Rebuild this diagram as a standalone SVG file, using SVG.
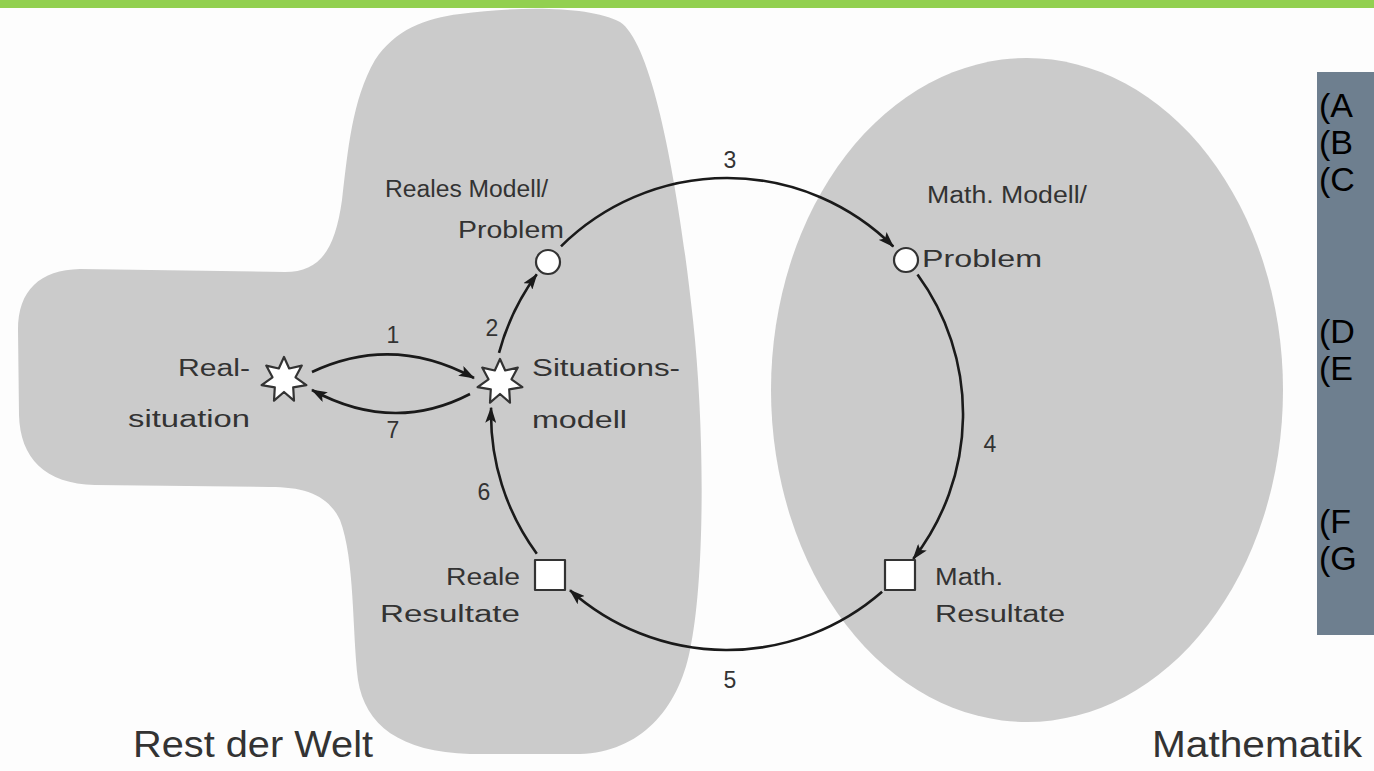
<svg xmlns="http://www.w3.org/2000/svg" xmlns:xlink="http://www.w3.org/1999/xlink" width="1374" height="771" viewBox="0 0 1374 771">
  <style>
    .region { fill: #cbcbcb; }
    .lbl { font-family: "Liberation Sans", Arial, sans-serif; font-size: 23px; fill: #333333; }
    .num { font-family: "Liberation Sans", Arial, sans-serif; font-size: 23px; fill: #333333; text-anchor: middle; }
    .big { font-family: "Liberation Sans", Arial, sans-serif; font-size: 36px; fill: #333333; }
    .node { fill: #ffffff; stroke: #333333; stroke-width: 2.2; stroke-linejoin: round; }
    .edge { fill: none; stroke: #1a1a1a; stroke-width: 2.6; marker-end: url(#ah); }
    .key { font-family: "Liberation Sans", Arial, sans-serif; font-size: 34px; fill: #000000; }
  </style>
  <defs>
    <marker id="ah" markerWidth="16" markerHeight="11" refX="15" refY="5.5" orient="auto" markerUnits="userSpaceOnUse">
      <path d="M0,0 L16,5.5 L0,11 L3.5,5.5 z" fill="#1a1a1a"/>
    </marker>
    <!-- seven-pointed burst used for the two situation nodes -->
    <polygon id="star" points="0,-23 5.2,-11.5 17.8,-14.4 11.5,-2.7 22.4,5.1 9.2,7.3 10,20.7 0,12 -10,20.7 -9.2,7.3 -22.4,5.1 -11.5,-2.7 -17.8,-14.4 -5.2,-11.5"/>
  </defs>

  <rect width="1374" height="771" fill="#fdfdfd"/>
  <rect x="0" y="0" width="1374" height="8" fill="#92d050"/>

  <!-- regions -->
  <g id="rest-der-welt">
    <path class="region" d="M 460,14 C 520,6 590,6 620,22 C 655,45 680,200 693,320 C 705,430 705,580 690,650 C 678,710 640,752 580,754 L 470,754 C 400,752 365,725 358,680 C 352,630 355,560 340,520 C 328,495 305,487 270,487 L 95,485 C 45,484 20,458 19,415 L 18,330 C 18,290 40,270 80,269 L 285,272 C 320,272 335,250 342,200 C 348,150 352,100 375,60 C 395,30 425,18 460,14 Z"/>
    <text class="big" x="133" y="757" textLength="240" lengthAdjust="spacingAndGlyphs">Rest der Welt</text>
  </g>
  <g id="mathematik">
    <ellipse class="region" cx="1027" cy="390" rx="256" ry="332"/>
    <text class="big" x="1152" y="757" textLength="210" lengthAdjust="spacingAndGlyphs">Mathematik</text>
  </g>

  <!-- connectors -->
  <g id="connectors">
    <path class="edge" d="M 312,372 Q 393,334 474,378"/>
    <path class="edge" d="M 470,394 Q 393,434 312,390"/>
    <path class="edge" d="M 499,352.9 A 236 236 0 0 1 536.8,274.3"/>
    <path class="edge" d="M 561,246.3 A 236 236 0 0 1 893.3,246.5"/>
    <path class="edge" d="M 917.5,274.6 A 236 236 0 0 1 913.2,559"/>
    <path class="edge" d="M 882.1,591.8 A 236 236 0 0 1 570,590.2"/>
    <path class="edge" d="M 536.8,553.7 A 236 236 0 0 1 491.1,407.8"/>
    <text class="num" x="393" y="343">1</text>
    <text class="num" x="492" y="336">2</text>
    <text class="num" x="730" y="168">3</text>
    <text class="num" x="990" y="452">4</text>
    <text class="num" x="730" y="688">5</text>
    <text class="num" x="484" y="500">6</text>
    <text class="num" x="393" y="438">7</text>
  </g>

  <!-- nodes -->
  <g id="realsituation">
    <use xlink:href="#star" href="#star" class="node" x="284" y="380"/>
    <text class="lbl" x="250" y="376" text-anchor="end" textLength="72" lengthAdjust="spacingAndGlyphs">Real-</text>
    <text class="lbl" x="250" y="427" text-anchor="end" textLength="122" lengthAdjust="spacingAndGlyphs">situation</text>
  </g>
  <g id="situationsmodell">
    <use xlink:href="#star" href="#star" class="node" x="500" y="382"/>
    <text class="lbl" x="532" y="376" textLength="148" lengthAdjust="spacingAndGlyphs">Situations-</text>
    <text class="lbl" x="532" y="428" textLength="95" lengthAdjust="spacingAndGlyphs">modell</text>
  </g>
  <g id="reales-modell">
    <circle class="node" cx="548" cy="262" r="12"/>
    <text class="lbl" x="385" y="197" textLength="163" lengthAdjust="spacingAndGlyphs">Reales Modell/</text>
    <text class="lbl" x="458" y="238" textLength="106" lengthAdjust="spacingAndGlyphs">Problem</text>
  </g>
  <g id="math-modell">
    <circle class="node" cx="906" cy="260" r="12"/>
    <text class="lbl" x="927" y="203" textLength="160" lengthAdjust="spacingAndGlyphs">Math. Modell/</text>
    <text class="lbl" x="922" y="267" textLength="120" lengthAdjust="spacingAndGlyphs">Problem</text>
  </g>
  <g id="math-resultate">
    <rect class="node" x="885" y="560" width="30" height="30"/>
    <text class="lbl" x="935" y="585" textLength="68" lengthAdjust="spacingAndGlyphs">Math.</text>
    <text class="lbl" x="935" y="622" textLength="130" lengthAdjust="spacingAndGlyphs">Resultate</text>
  </g>
  <g id="reale-resultate">
    <rect class="node" x="535" y="560" width="30" height="30"/>
    <text class="lbl" x="520" y="585" text-anchor="end" textLength="74" lengthAdjust="spacingAndGlyphs">Reale</text>
    <text class="lbl" x="520" y="622" text-anchor="end" textLength="140" lengthAdjust="spacingAndGlyphs">Resultate</text>
  </g>

  <!-- side legend box, cut off at the right edge -->
  <g id="legend">
    <rect x="1317" y="72" width="60" height="563" fill="#6e7f8f"/>
    <text class="key" x="1319" y="117">(A</text>
    <text class="key" x="1319" y="154">(B</text>
    <text class="key" x="1319" y="191">(C</text>
    <text class="key" x="1319" y="343">(D</text>
    <text class="key" x="1319" y="380">(E</text>
    <text class="key" x="1319" y="533">(F</text>
    <text class="key" x="1319" y="570">(G</text>
  </g>
</svg>
